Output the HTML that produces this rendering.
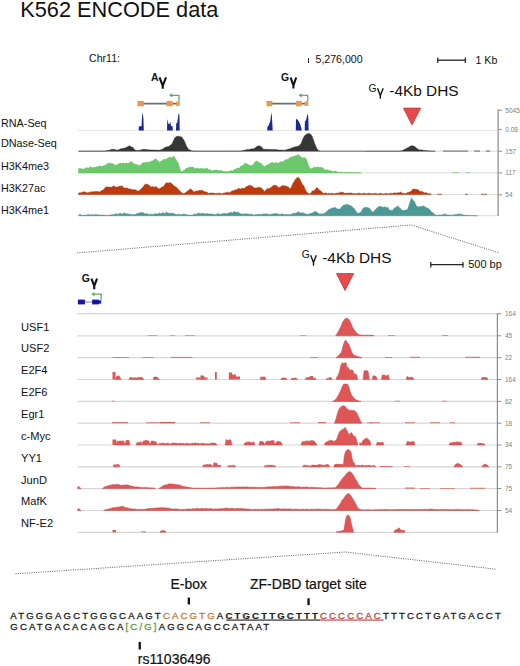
<!DOCTYPE html>
<html><head><meta charset="utf-8"><style>
html,body{margin:0;padding:0;background:#fff;}
body{width:520px;height:666px;overflow:hidden;}
svg{display:block;font-family:"Liberation Sans", sans-serif;}
</style></head><body>
<svg width="520" height="666" viewBox="0 0 520 666">
<rect width="520" height="666" fill="#fff"/>
<text x="20.2" y="16.7" font-size="21.75" fill="#111" font-weight="normal" text-anchor="start" >K562 ENCODE data</text>
<text x="89" y="62.3" font-size="10.6" fill="#111" font-weight="normal" text-anchor="start" >Chr11:</text>
<line x1="308.5" y1="58" x2="308.5" y2="63" stroke="#222" stroke-width="1"/>
<text x="315.5" y="63" font-size="10.6" fill="#111" font-weight="normal" text-anchor="start" >5,276,000</text>
<line x1="437.5" y1="60.2" x2="465.5" y2="60.2" stroke="#222" stroke-width="1.3"/>
<line x1="437.8" y1="57.6" x2="437.8" y2="63" stroke="#222" stroke-width="1.2"/>
<line x1="465.3" y1="57.6" x2="465.3" y2="63" stroke="#222" stroke-width="1.2"/>
<text x="475.5" y="63.5" font-size="10.6" fill="#111" font-weight="normal" text-anchor="start" >1 Kb</text>
<text x="151.0" y="80.7" font-size="10.4" fill="#111" font-weight="bold">A</text><path d="M159.5,77.4 L162.75,85.8 L166.0,77.4 M162.75,85.0 L162.75,88.7" fill="none" stroke="#111" stroke-width="2.1" stroke-linejoin="miter" stroke-linecap="butt"/>
<text x="281.1" y="80.75" font-size="10.4" fill="#111" font-weight="bold">G</text><path d="M290.6,77.5 L293.4,85.6 L296.2,77.5 M293.4,84.8 L293.4,88.6" fill="none" stroke="#111" stroke-width="2.1" stroke-linejoin="miter" stroke-linecap="butt"/>
<line x1="140.4" y1="103.6" x2="179.5" y2="103.6" stroke="#6e6e6e" stroke-width="1.6"/><rect x="137.4" y="100.9" width="6.400000000000006" height="5.4" fill="#e59a4c"/><rect x="166.5" y="100.9" width="6.199999999999989" height="5.4" fill="#e59a4c"/><rect x="176.2" y="101.4" width="3.3000000000000114" height="4.6" fill="#e59a4c"/><path d="M179.0,101.5 L179.0,95.3 L171.0,95.3" fill="none" stroke="#66a666" stroke-width="1.3"/><path d="M169.0,95.3 L172.2,93.2 L172.2,97.4 Z" fill="#66a666"/>
<line x1="269.5" y1="103.6" x2="308.2" y2="103.6" stroke="#6e6e6e" stroke-width="1.6"/><rect x="266.5" y="100.9" width="5.800000000000011" height="5.4" fill="#e59a4c"/><rect x="296.0" y="100.9" width="5.699999999999989" height="5.4" fill="#e59a4c"/><rect x="304.6" y="101.4" width="3.599999999999966" height="4.6" fill="#e59a4c"/><path d="M307.7,101.5 L307.7,95.3 L300.5,95.3" fill="none" stroke="#66a666" stroke-width="1.3"/><path d="M298.5,95.3 L301.7,93.2 L301.7,97.4 Z" fill="#66a666"/>
<text x="368.5" y="91.9" font-size="10.3" fill="#111">G</text><path d="M377.5,88.2 L380.35,95.6 L383.2,88.2 M380.35,94.8 L380.35,98.8" fill="none" stroke="#111" stroke-width="1.35" stroke-linejoin="miter" stroke-linecap="butt"/><text x="458.6" y="95.8" font-size="15.4" fill="#111" text-anchor="end">-4Kb DHS</text>
<path d="M403.4,108.1 L420.7,108.1 L412.0,124.9 Z" fill="#e64a4c" stroke="#b8383a" stroke-width="0.8" stroke-linejoin="round"/>
<line x1="78.5" y1="130.4" x2="497.5" y2="130.4" stroke="#e0e0e0" stroke-width="0.9"/>
<line x1="78.5" y1="151.2" x2="497.5" y2="151.2" stroke="#d4d4d4" stroke-width="0.9"/>
<line x1="78.5" y1="172.9" x2="497.5" y2="172.9" stroke="#d4d4d4" stroke-width="0.9"/>
<line x1="78.5" y1="194.6" x2="497.5" y2="194.6" stroke="#d4d4d4" stroke-width="0.9"/>
<line x1="78.5" y1="215.7" x2="497.5" y2="215.7" stroke="#d4d4d4" stroke-width="0.9"/>
<rect x="443" y="150.6" width="25" height="0.9" fill="#555"/>
<rect x="474" y="150.6" width="6" height="0.9" fill="#555"/>
<rect x="486" y="150.6" width="4" height="0.9" fill="#555"/>
<rect x="452" y="172.2" width="7" height="0.8" fill="#9c9"/>
<rect x="466" y="172.2" width="4" height="0.8" fill="#9c9"/>
<rect x="437" y="193.8" width="5" height="0.9" fill="#a54"/>
<rect x="465" y="193.8" width="3" height="0.9" fill="#a54"/>
<rect x="481" y="193.8" width="6" height="0.9" fill="#a54"/>
<path d="M138.7,130.4 L138.7,130.4 L138.9,126.2 L141.6,126.2 L141.9,119.0 L142.6,112.0 L143.4,118.0 L143.8,130.4 L143.8,130.4 Z" fill="#1a2a8e"/>
<path d="M167.0,130.4 L167.0,130.4 L167.2,123.0 L167.6,119.1 L168.4,123.9 L169.5,123.9 L170.2,121.2 L171.0,126.0 L172.5,126.2 L172.9,130.4 L172.9,130.4 Z" fill="#1a2a8e"/>
<path d="M176.0,130.4 L176.0,130.4 L176.2,123.5 L177.2,122.8 L178.2,116.0 L178.8,112.8 L179.4,115.0 L179.7,130.4 L179.7,130.4 Z" fill="#1a2a8e"/>
<path d="M267.2,130.4 L267.2,130.4 L267.4,127.0 L268.8,124.9 L270.4,120.7 L271.2,112.2 L271.9,116.5 L272.7,130.4 L272.7,130.4 Z" fill="#1a2a8e"/>
<path d="M295.8,130.4 L295.8,130.4 L296.0,119.1 L297.5,119.5 L298.8,121.5 L300.2,124.4 L301.2,127.8 L301.8,130.4 L301.8,130.4 Z" fill="#1a2a8e"/>
<path d="M304.7,130.4 L304.7,130.4 L304.9,121.5 L305.9,120.6 L306.8,117.0 L307.3,114.8 L307.9,114.3 L308.4,119.6 L308.6,130.4 L308.6,130.4 Z" fill="#1a2a8e"/>
<path d="M78.5,151.2 L78.5,151.1 L79.3,151.1 L80.1,151.1 L80.9,151.1 L81.7,151.1 L82.5,151.1 L83.3,151.1 L84.1,151.1 L84.9,151.1 L85.7,151.1 L86.5,151.1 L87.3,151.1 L88.1,151.1 L88.9,151.1 L89.7,151.1 L90.5,151.1 L91.3,151.0 L92.1,151.0 L92.9,151.0 L93.7,151.0 L94.5,151.0 L95.3,151.0 L96.1,151.0 L96.9,151.0 L97.7,151.0 L98.5,151.0 L99.3,151.0 L100.1,151.0 L100.9,151.0 L101.7,151.0 L102.5,151.0 L103.3,151.0 L104.1,151.0 L104.9,150.9 L105.7,150.8 L106.5,150.6 L107.3,150.5 L108.1,150.5 L108.9,150.3 L109.7,150.0 L110.5,149.7 L111.3,149.5 L112.1,149.3 L112.9,149.3 L113.7,149.3 L114.5,149.5 L115.3,149.6 L116.1,149.9 L116.9,150.1 L117.7,150.1 L118.5,149.7 L119.3,149.4 L120.1,149.1 L120.9,148.7 L121.7,148.5 L122.5,148.5 L123.3,148.2 L124.1,148.0 L124.9,148.1 L125.7,147.6 L126.5,147.4 L127.3,146.8 L128.1,146.3 L128.9,146.1 L129.7,145.7 L130.5,146.2 L131.3,146.9 L132.1,147.1 L132.9,147.2 L133.7,148.4 L134.5,149.3 L135.3,150.1 L136.1,150.5 L136.9,150.4 L137.7,150.4 L138.5,150.2 L139.3,150.3 L140.1,150.2 L140.9,149.8 L141.7,149.8 L142.5,149.6 L143.3,149.2 L144.1,149.3 L144.9,149.3 L145.7,149.6 L146.5,149.5 L147.3,149.7 L148.1,149.6 L148.9,149.9 L149.7,149.9 L150.5,149.8 L151.3,149.9 L152.1,150.0 L152.9,150.0 L153.7,150.0 L154.5,149.9 L155.3,150.0 L156.1,150.1 L156.9,150.0 L157.7,150.3 L158.5,150.1 L159.3,150.2 L160.1,149.8 L160.9,149.8 L161.7,149.5 L162.5,149.2 L163.3,148.6 L164.1,148.1 L164.9,147.5 L165.7,147.1 L166.5,146.8 L167.3,146.7 L168.1,146.7 L168.9,146.3 L169.7,145.5 L170.5,145.1 L171.3,144.4 L172.1,143.8 L172.9,141.8 L173.7,140.2 L174.5,138.0 L175.3,137.5 L176.1,136.7 L176.9,136.3 L177.7,136.6 L178.5,136.1 L179.3,136.4 L180.1,136.7 L180.9,136.6 L181.7,136.9 L182.5,138.2 L183.3,138.9 L184.1,140.4 L184.9,142.1 L185.7,144.3 L186.5,146.0 L187.3,147.6 L188.1,148.6 L188.9,149.8 L189.7,149.8 L190.5,150.3 L191.3,150.5 L192.1,150.8 L192.9,150.9 L193.7,150.9 L194.5,151.0 L195.3,151.0 L196.1,151.0 L196.9,151.0 L197.7,151.0 L198.5,151.1 L199.3,151.1 L200.1,151.1 L200.9,151.1 L201.7,151.1 L202.5,151.1 L203.3,151.1 L204.1,151.1 L204.9,151.1 L205.7,151.1 L206.5,151.1 L207.3,151.1 L208.1,151.1 L208.9,151.1 L209.7,151.1 L210.5,151.1 L211.3,151.1 L212.1,151.1 L212.9,151.1 L213.7,151.1 L214.5,151.1 L215.3,151.1 L216.1,151.1 L216.9,151.1 L217.7,151.1 L218.5,151.1 L219.3,151.1 L220.1,151.0 L220.9,151.0 L221.7,151.0 L222.5,151.0 L223.3,151.0 L224.1,151.0 L224.9,151.0 L225.7,151.0 L226.5,151.0 L227.3,151.0 L228.1,151.0 L228.9,151.0 L229.7,151.0 L230.5,151.0 L231.3,151.0 L232.1,151.0 L232.9,151.0 L233.7,151.0 L234.5,151.0 L235.3,151.0 L236.1,151.0 L236.9,151.0 L237.7,151.0 L238.5,151.0 L239.3,151.0 L240.1,151.0 L240.9,150.9 L241.7,150.6 L242.5,150.5 L243.3,150.4 L244.1,150.2 L244.9,149.9 L245.7,150.0 L246.5,149.6 L247.3,149.5 L248.1,149.4 L248.9,149.4 L249.7,149.4 L250.5,148.9 L251.3,148.9 L252.1,148.7 L252.9,148.7 L253.7,148.8 L254.5,148.3 L255.3,147.7 L256.1,146.9 L256.9,146.5 L257.7,146.1 L258.5,145.8 L259.3,145.8 L260.1,146.3 L260.9,146.5 L261.7,147.1 L262.5,148.1 L263.3,149.2 L264.1,149.1 L264.9,149.4 L265.7,149.3 L266.5,149.3 L267.3,149.2 L268.1,149.6 L268.9,149.3 L269.7,149.4 L270.5,149.4 L271.3,149.2 L272.1,149.5 L272.9,149.4 L273.7,149.4 L274.5,149.4 L275.3,149.5 L276.1,149.6 L276.9,149.8 L277.7,149.8 L278.5,150.0 L279.3,150.1 L280.1,150.1 L280.9,149.9 L281.7,150.0 L282.5,150.0 L283.3,150.2 L284.1,150.2 L284.9,150.1 L285.7,149.9 L286.5,149.5 L287.3,149.4 L288.1,149.3 L288.9,148.9 L289.7,148.7 L290.5,148.6 L291.3,148.1 L292.1,148.1 L292.9,147.5 L293.7,147.2 L294.5,146.9 L295.3,146.7 L296.1,146.5 L296.9,146.5 L297.7,146.3 L298.5,146.0 L299.3,145.4 L300.1,144.4 L300.9,143.9 L301.7,141.9 L302.5,139.7 L303.3,137.9 L304.1,136.5 L304.9,135.4 L305.7,134.6 L306.5,134.2 L307.3,133.8 L308.1,133.6 L308.9,133.5 L309.7,133.8 L310.5,134.0 L311.3,134.9 L312.1,136.3 L312.9,138.3 L313.7,140.4 L314.5,143.0 L315.3,145.0 L316.1,146.8 L316.9,148.6 L317.7,149.8 L318.5,150.2 L319.3,150.7 L320.1,151.0 L320.9,151.2 L321.7,151.2 L322.5,151.2 L323.3,151.2 L324.1,151.2 L324.9,151.2 L325.7,151.2 L326.5,151.2 L327.3,151.2 L328.1,151.2 L328.9,151.2 L329.7,151.2 L330.5,151.2 L331.3,151.2 L332.1,151.2 L332.9,151.2 L333.7,151.2 L334.5,151.2 L335.3,151.2 L336.1,151.2 L336.9,151.2 L337.7,151.2 L338.5,151.2 L339.3,151.2 L340.1,151.2 L340.9,151.2 L341.7,151.2 L342.5,151.2 L343.3,151.2 L344.1,151.2 L344.9,151.2 L345.7,151.2 L346.5,151.2 L347.3,151.2 L348.1,151.2 L348.9,151.2 L349.7,151.2 L350.5,151.2 L351.3,151.2 L352.1,151.2 L352.9,151.2 L353.7,151.2 L354.5,151.2 L355.3,151.2 L356.1,151.2 L356.9,151.2 L357.7,151.2 L358.5,151.2 L359.3,151.2 L360.1,151.2 L360.9,151.2 L361.7,151.2 L362.5,151.2 L363.3,151.2 L364.1,151.2 L364.9,151.2 L365.7,151.1 L366.5,151.1 L367.3,151.1 L368.1,151.1 L368.9,151.1 L369.7,151.1 L370.5,151.1 L371.3,151.1 L372.1,151.1 L372.9,151.1 L373.7,151.1 L374.5,151.1 L375.3,151.1 L376.1,151.1 L376.9,151.1 L377.7,151.1 L378.5,151.1 L379.3,151.1 L380.1,151.1 L380.9,151.1 L381.7,151.1 L382.5,151.1 L383.3,151.1 L384.1,151.1 L384.9,151.1 L385.7,151.1 L386.5,151.1 L387.3,151.1 L388.1,151.1 L388.9,151.1 L389.7,151.1 L390.5,151.1 L391.3,151.1 L392.1,151.1 L392.9,151.1 L393.7,151.1 L394.5,151.1 L395.3,151.1 L396.1,151.1 L396.9,151.1 L397.7,151.1 L398.5,151.1 L399.3,151.1 L400.1,151.1 L400.9,150.9 L401.7,150.5 L402.5,150.4 L403.3,150.0 L404.1,149.6 L404.9,149.1 L405.7,148.9 L406.5,148.2 L407.3,147.9 L408.1,147.4 L408.9,147.2 L409.7,146.3 L410.5,146.3 L411.3,145.8 L412.1,145.8 L412.9,145.8 L413.7,146.1 L414.5,146.5 L415.3,146.9 L416.1,147.6 L416.9,148.4 L417.7,149.1 L418.5,149.6 L419.3,149.6 L420.1,149.9 L420.9,149.9 L421.7,149.8 L422.5,150.1 L423.3,150.3 L424.1,150.4 L424.9,150.4 L425.7,150.4 L426.5,150.5 L427.3,150.7 L428.1,150.7 L428.9,150.8 L429.7,150.8 L430.5,150.9 L431.3,151.0 L432.1,151.0 L432.9,151.0 L433.7,151.1 L434.5,151.1 L435.3,151.2 L435.3,151.2 Z" fill="#363636" stroke="#363636" stroke-width="0.4" stroke-linejoin="round"/>
<path d="M78.5,172.9 L78.5,168.2 L79.9,168.8 L81.3,168.6 L82.7,169.0 L84.1,169.2 L85.5,168.0 L86.9,167.6 L88.3,168.5 L89.7,167.2 L91.1,166.8 L92.5,167.9 L93.9,167.0 L95.3,167.4 L96.7,166.7 L98.1,166.8 L99.5,165.9 L100.9,166.3 L102.3,166.4 L103.7,165.5 L105.1,165.3 L106.5,164.6 L107.9,162.9 L109.3,163.4 L110.7,163.3 L112.1,163.6 L113.5,163.8 L114.9,165.5 L116.3,165.1 L117.7,164.4 L119.1,163.5 L120.5,163.1 L121.9,163.6 L123.3,162.8 L124.7,163.6 L126.1,162.8 L127.5,163.4 L128.9,163.2 L130.3,161.7 L131.7,162.0 L133.1,162.7 L134.5,164.4 L135.9,164.1 L137.3,165.1 L138.7,165.2 L140.1,165.4 L141.5,164.0 L142.9,162.7 L144.3,162.4 L145.7,162.2 L147.1,162.5 L148.5,162.0 L149.9,161.9 L151.3,161.2 L152.7,160.8 L154.1,159.9 L155.5,158.6 L156.9,159.9 L158.3,161.2 L159.7,162.2 L161.1,161.0 L162.5,160.5 L163.9,159.0 L165.3,159.6 L166.7,158.8 L168.1,157.9 L169.5,157.1 L170.9,157.8 L172.3,157.5 L173.7,156.0 L175.1,158.2 L176.5,160.2 L177.9,162.8 L179.3,166.4 L180.7,171.1 L182.1,171.8 L183.5,170.3 L184.9,170.0 L186.3,167.9 L187.7,168.3 L189.1,167.0 L190.5,167.2 L191.9,167.0 L193.3,167.1 L194.7,168.7 L196.1,168.3 L197.5,168.0 L198.9,169.0 L200.3,168.2 L201.7,168.5 L203.1,168.7 L204.5,168.9 L205.9,168.1 L207.3,168.2 L208.7,170.0 L210.1,169.6 L211.5,170.8 L212.9,170.7 L214.3,169.9 L215.7,170.0 L217.1,170.1 L218.5,170.4 L219.9,170.6 L221.3,170.8 L222.7,171.1 L224.1,171.8 L225.5,171.3 L226.9,171.4 L228.3,171.8 L229.7,170.9 L231.1,170.4 L232.5,171.0 L233.9,169.8 L235.3,169.4 L236.7,168.1 L238.1,168.2 L239.5,167.9 L240.9,165.9 L242.3,165.8 L243.7,164.8 L245.1,162.8 L246.5,163.8 L247.9,164.3 L249.3,165.3 L250.7,165.6 L252.1,165.3 L253.5,164.3 L254.9,162.0 L256.3,161.0 L257.7,161.6 L259.1,163.0 L260.5,162.8 L261.9,164.2 L263.3,165.8 L264.7,166.5 L266.1,165.7 L267.5,164.7 L268.9,163.9 L270.3,163.3 L271.7,162.4 L273.1,162.6 L274.5,163.4 L275.9,162.3 L277.3,163.2 L278.7,163.1 L280.1,162.0 L281.5,161.5 L282.9,162.0 L284.3,160.6 L285.7,159.7 L287.1,159.4 L288.5,159.1 L289.9,157.4 L291.3,157.1 L292.7,156.4 L294.1,156.6 L295.5,155.5 L296.9,155.6 L298.3,154.5 L299.7,155.7 L301.1,157.1 L302.5,157.9 L303.9,157.6 L305.3,157.7 L306.7,160.0 L308.1,164.2 L309.5,167.8 L310.9,168.7 L312.3,168.6 L313.7,167.5 L315.1,167.1 L316.5,167.5 L317.9,166.8 L319.3,167.5 L320.7,167.3 L322.1,167.4 L323.5,168.4 L324.9,169.9 L326.3,169.7 L327.7,170.1 L329.1,170.4 L330.5,170.7 L331.9,170.9 L333.3,171.8 L334.7,171.1 L336.1,171.1 L337.5,172.2 L338.9,172.3 L340.3,172.4 L341.7,172.1 L343.1,172.4 L344.5,172.5 L345.9,172.2 L347.3,172.5 L348.7,172.6 L350.1,172.5 L351.5,172.5 L352.9,172.5 L354.3,172.5 L355.7,172.5 L357.1,172.7 L358.5,172.7 L359.9,172.8 L361.3,172.9 L361.3,172.9 Z" fill="#6cc86c" stroke="#5cb85c" stroke-width="0.4" stroke-linejoin="round"/>
<path d="M78.5,194.6 L78.5,193.1 L79.9,192.7 L81.3,192.7 L82.7,192.1 L84.1,191.7 L85.5,192.1 L86.9,192.9 L88.3,192.6 L89.7,192.5 L91.1,191.5 L92.5,192.0 L93.9,191.6 L95.3,191.6 L96.7,191.6 L98.1,191.4 L99.5,191.9 L100.9,191.0 L102.3,190.3 L103.7,189.4 L105.1,187.6 L106.5,186.8 L107.9,187.1 L109.3,187.1 L110.7,187.2 L112.1,187.1 L113.5,185.8 L114.9,186.8 L116.3,187.0 L117.7,186.9 L119.1,186.2 L120.5,186.3 L121.9,185.5 L123.3,187.4 L124.7,187.9 L126.1,187.9 L127.5,187.9 L128.9,189.1 L130.3,188.8 L131.7,189.5 L133.1,189.7 L134.5,189.6 L135.9,189.9 L137.3,190.7 L138.7,190.9 L140.1,189.9 L141.5,188.2 L142.9,187.3 L144.3,185.0 L145.7,184.0 L147.1,184.2 L148.5,184.7 L149.9,186.1 L151.3,186.9 L152.7,186.5 L154.1,187.4 L155.5,186.1 L156.9,187.6 L158.3,188.5 L159.7,188.7 L161.1,187.4 L162.5,186.9 L163.9,186.1 L165.3,183.8 L166.7,182.6 L168.1,183.3 L169.5,182.5 L170.9,183.0 L172.3,184.0 L173.7,185.8 L175.1,186.4 L176.5,187.2 L177.9,189.0 L179.3,190.3 L180.7,192.2 L182.1,192.9 L183.5,193.4 L184.9,193.1 L186.3,192.2 L187.7,190.8 L189.1,190.1 L190.5,188.7 L191.9,189.8 L193.3,191.4 L194.7,191.7 L196.1,190.8 L197.5,191.2 L198.9,190.3 L200.3,190.4 L201.7,190.2 L203.1,190.7 L204.5,191.8 L205.9,191.8 L207.3,192.4 L208.7,193.5 L210.1,192.9 L211.5,192.9 L212.9,193.0 L214.3,193.1 L215.7,193.7 L217.1,193.3 L218.5,193.2 L219.9,193.0 L221.3,193.9 L222.7,193.3 L224.1,193.1 L225.5,192.7 L226.9,192.4 L228.3,192.2 L229.7,192.8 L231.1,191.6 L232.5,190.7 L233.9,190.7 L235.3,189.6 L236.7,190.1 L238.1,188.3 L239.5,188.8 L240.9,188.9 L242.3,188.1 L243.7,188.8 L245.1,187.4 L246.5,186.4 L247.9,186.1 L249.3,185.0 L250.7,185.7 L252.1,186.0 L253.5,187.6 L254.9,188.1 L256.3,188.1 L257.7,187.2 L259.1,187.4 L260.5,187.4 L261.9,188.5 L263.3,189.8 L264.7,191.8 L266.1,189.6 L267.5,188.4 L268.9,188.8 L270.3,187.4 L271.7,187.2 L273.1,185.4 L274.5,185.4 L275.9,185.1 L277.3,186.5 L278.7,187.5 L280.1,187.3 L281.5,185.9 L282.9,185.4 L284.3,185.7 L285.7,186.0 L287.1,186.6 L288.5,187.0 L289.9,189.0 L291.3,187.3 L292.7,183.8 L294.1,181.5 L295.5,179.3 L296.9,177.8 L298.3,177.4 L299.7,178.7 L301.1,181.8 L302.5,184.6 L303.9,185.9 L305.3,189.7 L306.7,192.0 L308.1,193.2 L309.5,193.7 L310.9,193.3 L312.3,190.8 L313.7,190.9 L315.1,189.5 L316.5,187.6 L317.9,188.3 L319.3,190.0 L320.7,190.8 L322.1,192.2 L323.5,193.5 L324.9,193.1 L326.3,192.9 L327.7,193.8 L329.1,192.9 L330.5,193.8 L331.9,193.0 L333.3,193.6 L334.7,193.5 L336.1,193.5 L337.5,192.8 L338.9,193.2 L340.3,191.9 L341.7,192.6 L343.1,192.3 L344.5,193.3 L345.9,193.3 L347.3,193.0 L348.7,193.3 L350.1,192.9 L351.5,193.0 L352.9,193.5 L354.3,193.4 L355.7,193.8 L357.1,193.5 L358.5,193.1 L359.9,193.3 L361.3,193.7 L362.7,193.4 L364.1,193.0 L365.5,193.8 L366.9,193.8 L368.3,193.1 L369.7,193.5 L371.1,193.4 L372.5,193.8 L373.9,193.4 L375.3,193.3 L376.7,193.6 L378.1,194.0 L379.5,193.3 L380.9,193.3 L382.3,193.7 L383.7,193.9 L385.1,193.5 L386.5,193.4 L387.9,193.8 L389.3,193.7 L390.7,193.0 L392.1,193.8 L393.5,192.9 L394.9,192.8 L396.3,193.3 L397.7,192.6 L399.1,193.0 L400.5,191.8 L401.9,193.3 L403.3,193.0 L404.7,193.7 L406.1,193.5 L407.5,192.6 L408.9,192.2 L410.3,191.7 L411.7,190.4 L413.1,188.9 L414.5,189.1 L415.9,189.3 L417.3,189.5 L418.7,190.1 L420.1,191.8 L421.5,191.3 L422.9,191.8 L424.3,192.9 L425.7,192.4 L427.1,193.3 L428.5,193.8 L429.9,193.6 L431.3,194.2 L431.3,194.6 Z" fill="#bd3a0c" stroke="#a8300a" stroke-width="0.4" stroke-linejoin="round"/>
<path d="M78.5,215.7 L78.5,215.5 L79.9,213.9 L81.3,215.3 L82.7,215.2 L84.1,215.2 L85.5,215.1 L86.9,215.1 L88.3,214.5 L89.7,214.7 L91.1,214.9 L92.5,214.6 L93.9,214.9 L95.3,214.4 L96.7,214.7 L98.1,214.7 L99.5,214.9 L100.9,215.0 L102.3,214.9 L103.7,215.0 L105.1,215.2 L106.5,215.4 L107.9,215.4 L109.3,215.0 L110.7,215.1 L112.1,214.5 L113.5,214.7 L114.9,214.0 L116.3,213.7 L117.7,214.4 L119.1,213.4 L120.5,213.2 L121.9,214.1 L123.3,213.7 L124.7,212.7 L126.1,214.0 L127.5,213.7 L128.9,214.2 L130.3,214.1 L131.7,214.8 L133.1,214.4 L134.5,214.6 L135.9,214.3 L137.3,213.3 L138.7,213.2 L140.1,212.7 L141.5,212.5 L142.9,212.6 L144.3,213.2 L145.7,213.9 L147.1,213.4 L148.5,214.4 L149.9,214.3 L151.3,214.2 L152.7,214.5 L154.1,214.0 L155.5,213.7 L156.9,213.7 L158.3,213.9 L159.7,212.8 L161.1,213.9 L162.5,212.4 L163.9,213.3 L165.3,213.3 L166.7,212.0 L168.1,213.3 L169.5,213.0 L170.9,213.6 L172.3,213.1 L173.7,213.6 L175.1,214.1 L176.5,214.8 L177.9,214.0 L179.3,214.4 L180.7,214.5 L182.1,214.5 L183.5,214.0 L184.9,214.3 L186.3,214.6 L187.7,215.0 L189.1,214.9 L190.5,215.2 L191.9,215.0 L193.3,214.8 L194.7,213.8 L196.1,214.5 L197.5,213.2 L198.9,213.2 L200.3,213.3 L201.7,213.7 L203.1,213.0 L204.5,214.1 L205.9,213.7 L207.3,213.6 L208.7,213.9 L210.1,213.9 L211.5,214.1 L212.9,214.1 L214.3,214.5 L215.7,214.8 L217.1,213.8 L218.5,213.6 L219.9,214.6 L221.3,214.0 L222.7,213.7 L224.1,213.3 L225.5,213.6 L226.9,213.7 L228.3,213.0 L229.7,212.8 L231.1,212.1 L232.5,213.1 L233.9,211.6 L235.3,212.1 L236.7,212.6 L238.1,212.0 L239.5,213.2 L240.9,213.9 L242.3,213.8 L243.7,214.3 L245.1,213.5 L246.5,214.0 L247.9,213.8 L249.3,214.6 L250.7,214.1 L252.1,214.3 L253.5,214.9 L254.9,214.8 L256.3,214.8 L257.7,214.3 L259.1,214.3 L260.5,214.5 L261.9,214.2 L263.3,213.9 L264.7,214.0 L266.1,213.7 L267.5,213.9 L268.9,214.6 L270.3,214.5 L271.7,214.1 L273.1,213.9 L274.5,213.7 L275.9,213.4 L277.3,213.6 L278.7,214.3 L280.1,214.4 L281.5,213.7 L282.9,214.3 L284.3,214.4 L285.7,214.4 L287.1,214.5 L288.5,214.6 L289.9,214.4 L291.3,214.3 L292.7,213.4 L294.1,213.2 L295.5,213.2 L296.9,212.7 L298.3,211.7 L299.7,212.7 L301.1,212.7 L302.5,213.1 L303.9,212.7 L305.3,213.9 L306.7,214.1 L308.1,214.4 L309.5,213.6 L310.9,213.6 L312.3,212.8 L313.7,212.5 L315.1,211.3 L316.5,212.0 L317.9,213.0 L319.3,214.0 L320.7,213.7 L322.1,214.0 L323.5,213.8 L324.9,213.0 L326.3,212.0 L327.7,210.6 L329.1,209.3 L330.5,208.9 L331.9,207.8 L333.3,208.0 L334.7,207.4 L336.1,207.7 L337.5,209.1 L338.9,209.0 L340.3,208.9 L341.7,206.7 L343.1,205.4 L344.5,204.8 L345.9,204.7 L347.3,204.3 L348.7,204.9 L350.1,205.4 L351.5,206.0 L352.9,207.4 L354.3,208.5 L355.7,210.8 L357.1,213.0 L358.5,213.3 L359.9,212.7 L361.3,211.6 L362.7,208.7 L364.1,207.4 L365.5,207.5 L366.9,207.2 L368.3,207.7 L369.7,208.5 L371.1,210.4 L372.5,211.9 L373.9,211.6 L375.3,209.5 L376.7,208.3 L378.1,207.1 L379.5,206.3 L380.9,206.5 L382.3,206.9 L383.7,207.4 L385.1,206.4 L386.5,208.0 L387.9,207.1 L389.3,210.3 L390.7,210.1 L392.1,210.8 L393.5,209.1 L394.9,207.6 L396.3,207.4 L397.7,205.6 L399.1,207.4 L400.5,208.4 L401.9,210.1 L403.3,210.7 L404.7,210.1 L406.1,210.0 L407.5,209.4 L408.9,205.5 L410.3,200.9 L411.7,197.7 L413.1,200.5 L414.5,201.4 L415.9,204.9 L417.3,206.8 L418.7,206.8 L420.1,206.6 L421.5,206.8 L422.9,205.8 L424.3,206.3 L425.7,207.3 L427.1,208.1 L428.5,208.4 L429.9,210.1 L431.3,211.8 L432.7,212.5 L434.1,213.8 L435.5,214.9 L436.9,215.3 L438.3,215.3 L439.7,214.8 L441.1,215.0 L442.5,214.8 L443.9,214.3 L445.3,213.8 L446.7,214.9 L448.1,214.8 L449.5,215.2 L450.9,214.9 L452.3,215.2 L453.7,214.7 L455.1,214.4 L456.5,214.4 L457.9,213.9 L459.3,214.2 L460.7,214.1 L462.1,214.4 L463.5,215.0 L464.9,215.2 L466.3,215.0 L467.7,215.3 L469.1,215.4 L470.5,215.5 L471.9,215.5 L473.3,215.6 L474.7,215.6 L476.1,215.7 L477.5,215.7 L477.5,215.7 Z" fill="#4c9a98" stroke="#3f8a88" stroke-width="0.4" stroke-linejoin="round"/>
<line x1="498.1" y1="109.6" x2="498.1" y2="216" stroke="#8a8a8a" stroke-width="1.2"/>
<line x1="498" y1="110.2" x2="502" y2="110.2" stroke="#8a8a8a" stroke-width="1"/>
<text x="505.3" y="112.5" font-size="6.5" fill="#808080" font-weight="normal" text-anchor="start" >5045</text>
<line x1="498" y1="129.4" x2="502" y2="129.4" stroke="#8a8a8a" stroke-width="1"/>
<text x="505.3" y="131.70000000000002" font-size="6.5" fill="#808080" font-weight="normal" text-anchor="start" >0.08</text>
<line x1="498" y1="151.2" x2="502" y2="151.2" stroke="#8a8a8a" stroke-width="1"/>
<text x="505.3" y="153.5" font-size="6.5" fill="#808080" font-weight="normal" text-anchor="start" >157</text>
<line x1="498" y1="172.9" x2="502" y2="172.9" stroke="#8a8a8a" stroke-width="1"/>
<text x="505.3" y="175.20000000000002" font-size="6.5" fill="#808080" font-weight="normal" text-anchor="start" >117</text>
<line x1="498" y1="194.8" x2="502" y2="194.8" stroke="#8a8a8a" stroke-width="1"/>
<text x="505.3" y="197.10000000000002" font-size="6.5" fill="#808080" font-weight="normal" text-anchor="start" >54</text>
<text x="1.0" y="126.8" font-size="10.8" fill="#111" font-weight="normal" text-anchor="start" >RNA-Seq</text>
<text x="1.0" y="147.2" font-size="10.8" fill="#111" font-weight="normal" text-anchor="start" >DNase-Seq</text>
<text x="1.0" y="170.3" font-size="10.8" fill="#111" font-weight="normal" text-anchor="start" >H3K4me3</text>
<text x="1.0" y="191.8" font-size="10.8" fill="#111" font-weight="normal" text-anchor="start" >H3K27ac</text>
<text x="1.0" y="214.3" font-size="10.8" fill="#111" font-weight="normal" text-anchor="start" >H3K4me1</text>
<polyline points="77,253 411.3,225 499.5,253" fill="none" stroke="#5a5a5a" stroke-width="0.9" stroke-dasharray="1.1,1.2"/>
<text x="81.85" y="281.5" font-size="10.4" fill="#111" font-weight="bold">G</text><path d="M91.4,278.6 L94.25,285.8 L97.1,278.6 M94.25,285.0 L94.25,289.2" fill="none" stroke="#111" stroke-width="2.1" stroke-linejoin="miter" stroke-linecap="butt"/>
<line x1="84" y1="302" x2="92" y2="302" stroke="#8080c0" stroke-width="1"/>
<rect x="77.9" y="299.6" width="7" height="4.8" fill="#1414a6"/>
<rect x="92.1" y="299.6" width="7" height="4.8" fill="#1414a6"/>
<rect x="99" y="300.4" width="2.2" height="3.2" fill="#1414a6"/>
<path d="M101.2,300 L101.2,294.2 L93.2,294.2" fill="none" stroke="#66a666" stroke-width="1.3"/>
<path d="M91.2,294.2 L94.4,292.1 L94.4,296.3 Z" fill="#66a666"/>
<text x="301.7" y="258.3" font-size="10.3" fill="#111">G</text><path d="M310.7,255.2 L313.5,262.6 L316.3,255.2 M313.5,261.8 L313.5,265.8" fill="none" stroke="#111" stroke-width="1.35" stroke-linejoin="miter" stroke-linecap="butt"/><text x="391.5" y="263.2" font-size="15.4" fill="#111" text-anchor="end">-4Kb DHS</text>
<path d="M336.5,273.6 L353.7,273.6 L345.0,290.5 Z" fill="#e64a4c" stroke="#b8383a" stroke-width="0.8" stroke-linejoin="round"/>
<line x1="430.5" y1="264.7" x2="463.3" y2="264.7" stroke="#222" stroke-width="1.3"/>
<line x1="430.8" y1="262" x2="430.8" y2="267.4" stroke="#222" stroke-width="1.2"/>
<line x1="463" y1="262" x2="463" y2="267.4" stroke="#222" stroke-width="1.2"/>
<text x="468.2" y="267.7" font-size="11" fill="#111" font-weight="normal" text-anchor="start" >500 bp</text>
<line x1="77.5" y1="313.7" x2="497.2" y2="313.7" stroke="#d6d6d6" stroke-width="1.2"/>
<line x1="77.5" y1="335.8" x2="497.2" y2="335.8" stroke="#d6d6d6" stroke-width="1.2"/>
<line x1="77.5" y1="357.7" x2="497.2" y2="357.7" stroke="#d6d6d6" stroke-width="1.2"/>
<line x1="77.5" y1="379.5" x2="497.2" y2="379.5" stroke="#d6d6d6" stroke-width="1.2"/>
<line x1="77.5" y1="401.4" x2="497.2" y2="401.4" stroke="#d6d6d6" stroke-width="1.2"/>
<line x1="77.5" y1="423.2" x2="497.2" y2="423.2" stroke="#d6d6d6" stroke-width="1.2"/>
<line x1="77.5" y1="445.0" x2="497.2" y2="445.0" stroke="#d6d6d6" stroke-width="1.2"/>
<line x1="77.5" y1="466.8" x2="497.2" y2="466.8" stroke="#d6d6d6" stroke-width="1.2"/>
<line x1="77.5" y1="488.6" x2="497.2" y2="488.6" stroke="#d6d6d6" stroke-width="1.2"/>
<line x1="77.5" y1="510.5" x2="497.2" y2="510.5" stroke="#d6d6d6" stroke-width="1.2"/>
<line x1="77.5" y1="532.3" x2="497.2" y2="532.3" stroke="#d6d6d6" stroke-width="1.2"/>
<line x1="497.4" y1="313.3" x2="497.4" y2="532.8" stroke="#8a8a8a" stroke-width="1.2"/>
<line x1="497.3" y1="313.7" x2="501.3" y2="313.7" stroke="#8a8a8a" stroke-width="1"/>
<text x="505.0" y="316.0" font-size="6.5" fill="#808080" font-weight="normal" text-anchor="start" >164</text>
<line x1="497.3" y1="335.8" x2="501.3" y2="335.8" stroke="#8a8a8a" stroke-width="1"/>
<text x="505.0" y="338.1" font-size="6.5" fill="#808080" font-weight="normal" text-anchor="start" >45</text>
<line x1="497.3" y1="357.7" x2="501.3" y2="357.7" stroke="#8a8a8a" stroke-width="1"/>
<text x="505.0" y="360.0" font-size="6.5" fill="#808080" font-weight="normal" text-anchor="start" >22</text>
<line x1="497.3" y1="379.5" x2="501.3" y2="379.5" stroke="#8a8a8a" stroke-width="1"/>
<text x="505.0" y="381.8" font-size="6.5" fill="#808080" font-weight="normal" text-anchor="start" >164</text>
<line x1="497.3" y1="401.4" x2="501.3" y2="401.4" stroke="#8a8a8a" stroke-width="1"/>
<text x="505.0" y="403.7" font-size="6.5" fill="#808080" font-weight="normal" text-anchor="start" >62</text>
<line x1="497.3" y1="423.2" x2="501.3" y2="423.2" stroke="#8a8a8a" stroke-width="1"/>
<text x="505.0" y="425.5" font-size="6.5" fill="#808080" font-weight="normal" text-anchor="start" >18</text>
<line x1="497.3" y1="445.0" x2="501.3" y2="445.0" stroke="#8a8a8a" stroke-width="1"/>
<text x="505.0" y="447.3" font-size="6.5" fill="#808080" font-weight="normal" text-anchor="start" >34</text>
<line x1="497.3" y1="466.8" x2="501.3" y2="466.8" stroke="#8a8a8a" stroke-width="1"/>
<text x="505.0" y="469.1" font-size="6.5" fill="#808080" font-weight="normal" text-anchor="start" >75</text>
<line x1="497.3" y1="488.6" x2="501.3" y2="488.6" stroke="#8a8a8a" stroke-width="1"/>
<text x="505.0" y="490.90000000000003" font-size="6.5" fill="#808080" font-weight="normal" text-anchor="start" >75</text>
<line x1="497.3" y1="510.5" x2="501.3" y2="510.5" stroke="#8a8a8a" stroke-width="1"/>
<text x="505.0" y="512.8" font-size="6.5" fill="#808080" font-weight="normal" text-anchor="start" >54</text>
<text x="21.0" y="330.5" font-size="11.1" fill="#111" font-weight="normal" text-anchor="start" >USF1</text>
<text x="21.0" y="352.3" font-size="11.1" fill="#111" font-weight="normal" text-anchor="start" >USF2</text>
<text x="21.0" y="374.3" font-size="11.1" fill="#111" font-weight="normal" text-anchor="start" >E2F4</text>
<text x="21.0" y="395.90000000000003" font-size="11.1" fill="#111" font-weight="normal" text-anchor="start" >E2F6</text>
<text x="21.0" y="417.5" font-size="11.1" fill="#111" font-weight="normal" text-anchor="start" >Egr1</text>
<text x="21.0" y="440.1" font-size="11.1" fill="#111" font-weight="normal" text-anchor="start" >c-Myc</text>
<text x="21.0" y="461.7" font-size="11.1" fill="#111" font-weight="normal" text-anchor="start" >YY1</text>
<text x="21.0" y="483.7" font-size="11.1" fill="#111" font-weight="normal" text-anchor="start" >JunD</text>
<text x="21.0" y="505.0" font-size="11.1" fill="#111" font-weight="normal" text-anchor="start" >MafK</text>
<text x="21.0" y="526.5999999999999" font-size="11.1" fill="#111" font-weight="normal" text-anchor="start" >NF-E2</text>
<path d="M335.5,335.8 L335.5,335.8 L336.2,335.1 L338.5,331.2 L340.8,326.6 L343.1,321.2 L345.4,318.5 L347.3,318.2 L349.2,319.7 L350.8,322.8 L352.7,327.4 L354.6,330.5 L356.9,333.2 L359.2,334.7 L362.3,335.2 L372.5,335.3 L374.0,335.8 L374.0,335.8 Z" fill="#de5656" stroke="#c84444" stroke-width="0.5" stroke-linejoin="round"/>
<rect x="147.5" y="335.3" width="10.0" height="0.5" fill="#de5656"/>
<rect x="170.0" y="335.3" width="5.0" height="0.5" fill="#de5656"/>
<rect x="185.0" y="335.3" width="10.0" height="0.5" fill="#de5656"/>
<rect x="388.0" y="335.2" width="7.0" height="0.6" fill="#de5656"/>
<rect x="442.0" y="335.2" width="6.0" height="0.6" fill="#de5656"/>
<rect x="300.0" y="335.3" width="6.0" height="0.5" fill="#de5656"/>
<path d="M336.0,357.7 L336.0,357.7 L336.9,357.0 L339.2,355.1 L341.5,352.0 L343.1,345.8 L344.6,341.2 L345.8,340.1 L346.9,342.0 L348.8,344.3 L350.4,348.2 L352.3,353.5 L354.6,355.5 L357.7,356.6 L360.8,357.2 L362.0,357.7 L362.0,357.7 Z" fill="#de5656" stroke="#c84444" stroke-width="0.5" stroke-linejoin="round"/>
<rect x="112.5" y="357.0" width="16.2" height="0.7" fill="#de5656"/>
<rect x="142.5" y="357.0" width="11.2" height="0.7" fill="#de5656"/>
<rect x="171.0" y="356.9" width="21.5" height="0.8" fill="#de5656"/>
<rect x="310.0" y="357.0" width="8.0" height="0.7" fill="#de5656"/>
<rect x="385.0" y="357.0" width="7.0" height="0.7" fill="#de5656"/>
<rect x="410.0" y="356.8" width="10.0" height="0.9" fill="#de5656"/>
<rect x="465.0" y="356.8" width="15.0" height="0.9" fill="#de5656"/>
<path d="M336.1,379.5 L336.1,379.5 L337.0,376.7 L337.9,375.5 L338.8,373.9 L339.7,370.4 L340.6,366.3 L341.5,363.7 L342.4,362.8 L343.3,363.4 L344.2,363.3 L345.1,362.8 L346.0,362.8 L346.9,367.0 L347.8,367.2 L348.7,368.4 L349.6,369.5 L350.5,370.4 L351.4,369.7 L352.3,369.8 L353.2,371.3 L354.1,373.4 L355.0,374.2 L355.9,374.2 L356.8,375.1 L357.7,379.5 L357.7,379.5 Z" fill="#de5656" stroke="#c84444" stroke-width="0.5" stroke-linejoin="round"/>
<rect x="112.5" y="372.0" width="3.0" height="7.5" fill="#de5656"/>
<path d="M115.5,379.5 L115.5,379.5 L116.5,376.2 L117.5,376.2 L118.5,375.6 L119.5,376.4 L121.3,379.5 L121.3,379.5 Z" fill="#de5656" stroke="#c84444" stroke-width="0.4" stroke-linejoin="round"/>
<path d="M128.8,379.5 L128.8,379.5 L129.8,377.6 L130.8,377.2 L131.8,377.4 L132.8,378.0 L133.8,377.9 L134.8,377.2 L135.8,378.1 L136.8,378.1 L137.8,377.0 L138.8,377.8 L139.8,377.4 L140.8,377.0 L141.8,377.4 L142.8,377.8 L143.8,379.5 L143.8,379.5 Z" fill="#de5656" stroke="#c84444" stroke-width="0.4" stroke-linejoin="round"/>
<path d="M153.0,379.5 L153.0,379.5 L154.0,376.8 L155.0,377.1 L156.0,376.9 L157.0,377.0 L158.0,377.9 L159.5,379.5 L159.5,379.5 Z" fill="#de5656" stroke="#c84444" stroke-width="0.4" stroke-linejoin="round"/>
<rect x="196.0" y="377.5" width="4.0" height="2.0" fill="#de5656"/>
<path d="M200.0,379.5 L200.0,379.5 L201.0,375.4 L202.0,375.6 L203.0,375.9 L204.0,375.9 L205.0,379.5 L205.0,379.5 Z" fill="#de5656" stroke="#c84444" stroke-width="0.4" stroke-linejoin="round"/>
<rect x="205.0" y="377.5" width="2.5" height="2.0" fill="#de5656"/>
<rect x="215.0" y="372.0" width="1.8" height="7.5" fill="#de5656"/>
<rect x="228.8" y="372.5" width="3.2" height="7.0" fill="#de5656"/>
<rect x="232.0" y="374.5" width="4.0" height="5.0" fill="#de5656"/>
<rect x="236.0" y="376.5" width="4.0" height="3.0" fill="#de5656"/>
<path d="M260.0,379.5 L260.0,379.5 L261.0,376.5 L262.0,377.5 L263.0,376.7 L264.0,377.3 L265.0,376.7 L266.0,379.5 L266.0,379.5 Z" fill="#de5656" stroke="#c84444" stroke-width="0.4" stroke-linejoin="round"/>
<path d="M280.5,379.5 L280.5,379.5 L281.5,378.3 L282.5,378.0 L283.5,377.9 L284.5,377.9 L285.5,377.8 L287.0,379.5 L287.0,379.5 Z" fill="#de5656" stroke="#c84444" stroke-width="0.4" stroke-linejoin="round"/>
<path d="M291.0,379.5 L291.0,379.5 L292.0,378.0 L293.0,378.1 L294.0,378.5 L295.0,378.0 L296.0,377.7 L297.5,379.5 L297.5,379.5 Z" fill="#de5656" stroke="#c84444" stroke-width="0.4" stroke-linejoin="round"/>
<path d="M305.0,379.5 L305.0,379.5 L306.0,377.7 L307.0,377.8 L308.0,377.6 L309.0,377.1 L310.0,377.4 L311.0,377.0 L312.0,377.8 L313.0,377.4 L314.0,378.2 L315.0,377.7 L316.0,379.5 L316.0,379.5 Z" fill="#de5656" stroke="#c84444" stroke-width="0.4" stroke-linejoin="round"/>
<rect x="310.0" y="376.0" width="3.0" height="3.5" fill="#de5656"/>
<path d="M326.0,379.5 L326.0,379.5 L327.0,378.2 L328.0,378.4 L329.0,377.7 L330.0,377.6 L331.0,377.6 L332.5,379.5 L332.5,379.5 Z" fill="#de5656" stroke="#c84444" stroke-width="0.4" stroke-linejoin="round"/>
<path d="M363.0,379.5 L363.0,379.5 L364.0,370.8 L365.0,370.6 L366.0,370.9 L367.0,370.4 L368.0,370.9 L369.5,379.5 L369.5,379.5 Z" fill="#de5656" stroke="#c84444" stroke-width="0.4" stroke-linejoin="round"/>
<path d="M372.0,379.5 L372.0,379.5 L373.0,375.8 L374.0,375.8 L375.0,375.9 L376.0,376.6 L377.5,379.5 L377.5,379.5 Z" fill="#de5656" stroke="#c84444" stroke-width="0.4" stroke-linejoin="round"/>
<path d="M381.3,379.5 L381.3,379.5 L382.3,374.6 L383.3,375.2 L384.3,375.1 L385.3,375.2 L386.3,375.9 L387.3,375.2 L388.3,374.8 L389.5,379.5 L389.5,379.5 Z" fill="#de5656" stroke="#c84444" stroke-width="0.4" stroke-linejoin="round"/>
<path d="M406.0,379.5 L406.0,379.5 L407.0,376.5 L408.0,376.7 L409.0,377.4 L410.0,377.4 L411.0,377.3 L412.0,376.9 L413.0,377.8 L414.0,379.5 L414.0,379.5 Z" fill="#de5656" stroke="#c84444" stroke-width="0.4" stroke-linejoin="round"/>
<path d="M481.0,379.5 L481.0,379.5 L482.0,377.3 L483.0,377.7 L484.0,377.1 L485.0,377.4 L486.0,377.7 L487.0,377.4 L488.0,379.5 L488.0,379.5 Z" fill="#de5656" stroke="#c84444" stroke-width="0.4" stroke-linejoin="round"/>
<path d="M332.0,401.4 L332.0,401.4 L333.8,401.1 L336.2,398.8 L338.5,394.9 L340.8,390.3 L342.3,386.5 L343.5,384.2 L345.0,384.0 L347.3,384.0 L348.5,385.7 L350.0,391.1 L351.5,394.9 L353.8,398.0 L356.2,399.9 L359.2,401.1 L361.0,401.4 L361.0,401.4 Z" fill="#de5656" stroke="#c84444" stroke-width="0.5" stroke-linejoin="round"/>
<rect x="112.0" y="400.8" width="3.0" height="0.6" fill="#de5656"/>
<rect x="395.0" y="400.8" width="5.0" height="0.6" fill="#de5656"/>
<rect x="442.0" y="400.8" width="5.0" height="0.6" fill="#de5656"/>
<path d="M334.3,423.2 L334.3,423.2 L334.5,423.0 L335.9,419.3 L337.4,413.5 L338.8,409.7 L340.8,406.8 L343.2,405.7 L345.1,406.3 L347.0,408.7 L348.9,410.2 L351.8,410.2 L354.7,410.7 L356.6,412.6 L358.5,416.4 L360.5,421.2 L361.9,423.0 L362.2,423.2 L362.2,423.2 Z" fill="#de5656" stroke="#c84444" stroke-width="0.5" stroke-linejoin="round"/>
<rect x="367.0" y="422.6" width="5.0" height="0.6" fill="#de5656"/>
<rect x="112.0" y="422.2" width="16.0" height="1.0" fill="#de5656"/>
<rect x="146.0" y="422.4" width="14.0" height="0.8" fill="#de5656"/>
<rect x="160.0" y="422.0" width="15.0" height="1.2" fill="#de5656"/>
<rect x="200.0" y="422.4" width="10.0" height="0.8" fill="#de5656"/>
<rect x="290.0" y="422.4" width="10.0" height="0.8" fill="#de5656"/>
<rect x="318.0" y="422.2" width="8.0" height="1.0" fill="#de5656"/>
<rect x="370.0" y="422.4" width="10.0" height="0.8" fill="#de5656"/>
<rect x="405.0" y="422.4" width="10.0" height="0.8" fill="#de5656"/>
<rect x="430.0" y="422.4" width="10.0" height="0.8" fill="#de5656"/>
<rect x="450.0" y="422.4" width="5.0" height="0.8" fill="#de5656"/>
<path d="M324.4,445.0 L324.4,445.0 L325.3,442.7 L326.2,442.3 L327.1,441.4 L328.0,441.5 L328.9,440.7 L329.8,439.9 L330.7,440.4 L331.6,440.6 L332.5,440.4 L333.4,441.4 L334.3,441.2 L335.2,440.7 L336.1,440.1 L337.0,438.5 L337.9,435.6 L338.8,433.4 L339.7,431.5 L340.6,431.1 L341.5,430.0 L342.4,429.6 L343.3,429.1 L344.2,428.8 L345.1,427.2 L346.0,429.1 L346.9,430.2 L347.8,432.6 L348.7,433.9 L349.6,434.6 L350.5,432.9 L351.4,432.7 L352.3,433.5 L353.2,435.8 L354.1,436.4 L355.0,436.1 L355.9,438.0 L356.8,440.9 L357.7,443.7 L357.7,445.0 Z" fill="#de5656" stroke="#c84444" stroke-width="0.5" stroke-linejoin="round"/>
<path d="M359.6,445.0 L359.6,445.0 L360.0,442.4 L361.0,444.5 L362.9,440.5 L364.8,439.0 L366.7,438.1 L368.6,439.5 L370.1,441.4 L371.0,445.0 L371.0,445.0 Z" fill="#de5656" stroke="#c84444" stroke-width="0.5" stroke-linejoin="round"/>
<rect x="112.5" y="439.5" width="3.5" height="5.5" fill="#de5656"/>
<path d="M116.0,445.0 L116.0,445.0 L117.0,440.5 L118.0,441.6 L119.0,441.6 L120.0,440.4 L121.0,441.6 L122.0,441.0 L123.0,440.7 L124.0,441.4 L125.0,445.0 L125.0,445.0 Z" fill="#de5656" stroke="#c84444" stroke-width="0.4" stroke-linejoin="round"/>
<path d="M125.0,445.0 L125.0,445.0 L126.0,440.4 L127.0,440.5 L128.0,440.1 L129.0,440.4 L130.0,445.0 L130.0,445.0 Z" fill="#de5656" stroke="#c84444" stroke-width="0.4" stroke-linejoin="round"/>
<path d="M136.0,445.0 L136.0,445.0 L137.0,442.4 L138.0,442.6 L139.0,442.7 L140.0,441.9 L141.0,441.6 L142.0,445.0 L142.0,445.0 Z" fill="#de5656" stroke="#c84444" stroke-width="0.4" stroke-linejoin="round"/>
<path d="M142.0,445.0 L142.0,445.0 L143.0,441.1 L144.0,441.0 L145.0,440.5 L146.0,440.2 L147.0,440.2 L148.0,440.9 L149.0,441.1 L150.0,445.0 L150.0,445.0 Z" fill="#de5656" stroke="#c84444" stroke-width="0.4" stroke-linejoin="round"/>
<path d="M150.0,445.0 L150.0,445.0 L151.0,441.6 L152.0,440.8 L153.0,441.3 L154.0,441.0 L155.0,442.2 L156.0,441.6 L157.5,445.0 L157.5,445.0 Z" fill="#de5656" stroke="#c84444" stroke-width="0.4" stroke-linejoin="round"/>
<path d="M158.0,445.0 L158.0,445.0 L159.0,443.9 L160.0,442.8 L161.0,443.7 L162.0,443.2 L163.0,442.9 L164.0,443.2 L165.0,443.6 L166.0,443.8 L167.0,443.0 L168.0,443.2 L169.0,443.4 L170.0,443.9 L171.0,443.9 L172.0,442.8 L173.0,443.1 L174.0,443.0 L175.0,443.2 L176.0,442.9 L177.0,443.3 L178.0,443.8 L179.0,443.5 L180.0,442.8 L181.0,443.5 L182.0,443.6 L183.0,443.0 L184.0,443.7 L185.0,443.9 L186.0,442.9 L187.0,443.2 L188.0,443.7 L189.0,443.5 L190.0,443.9 L191.0,443.5 L192.0,443.6 L193.0,443.1 L194.0,443.6 L195.0,442.8 L196.0,442.8 L197.0,443.8 L198.0,443.2 L199.0,442.9 L200.0,445.0 L200.0,445.0 Z" fill="#de5656" stroke="#c84444" stroke-width="0.4" stroke-linejoin="round"/>
<path d="M200.0,445.0 L200.0,445.0 L201.0,442.8 L202.0,443.7 L203.0,443.0 L204.0,443.7 L205.0,443.6 L206.0,443.9 L207.0,443.7 L208.0,443.7 L209.0,443.9 L210.0,443.7 L211.0,443.1 L212.0,443.1 L213.0,442.9 L214.0,443.2 L215.0,442.9 L216.0,443.5 L217.0,445.0 L217.0,445.0 Z" fill="#de5656" stroke="#c84444" stroke-width="0.4" stroke-linejoin="round"/>
<path d="M225.0,445.0 L225.0,445.0 L226.0,439.4 L227.0,439.8 L228.0,440.5 L229.0,440.2 L230.0,439.3 L231.0,440.3 L232.0,445.0 L232.0,445.0 Z" fill="#de5656" stroke="#c84444" stroke-width="0.4" stroke-linejoin="round"/>
<path d="M243.8,445.0 L243.8,445.0 L244.8,443.0 L245.8,442.6 L246.8,442.0 L247.8,442.3 L248.8,441.8 L249.8,441.8 L250.8,442.8 L251.8,442.4 L252.8,442.4 L253.8,441.6 L255.0,445.0 L255.0,445.0 Z" fill="#de5656" stroke="#c84444" stroke-width="0.4" stroke-linejoin="round"/>
<path d="M258.8,445.0 L258.8,445.0 L259.8,441.4 L260.8,441.1 L261.8,441.5 L262.8,441.6 L263.8,442.5 L265.0,445.0 L265.0,445.0 Z" fill="#de5656" stroke="#c84444" stroke-width="0.4" stroke-linejoin="round"/>
<path d="M265.0,445.0 L265.0,445.0 L266.0,441.3 L267.0,441.5 L268.0,440.8 L269.0,441.2 L270.0,441.1 L271.0,440.9 L272.0,440.3 L273.0,440.5 L274.0,440.7 L275.0,445.0 L275.0,445.0 Z" fill="#de5656" stroke="#c84444" stroke-width="0.4" stroke-linejoin="round"/>
<path d="M275.0,445.0 L275.0,445.0 L276.0,442.5 L277.0,441.4 L278.0,441.2 L279.0,441.6 L280.0,441.7 L281.0,442.3 L282.5,445.0 L282.5,445.0 Z" fill="#de5656" stroke="#c84444" stroke-width="0.4" stroke-linejoin="round"/>
<path d="M301.0,445.0 L301.0,445.0 L302.0,441.7 L303.0,441.6 L304.0,441.4 L305.0,441.2 L306.0,441.2 L307.0,440.5 L308.0,441.4 L309.0,440.7 L310.0,441.4 L311.0,440.3 L312.0,440.5 L313.0,440.7 L314.0,441.0 L315.0,441.7 L316.0,445.0 L316.0,445.0 Z" fill="#de5656" stroke="#c84444" stroke-width="0.4" stroke-linejoin="round"/>
<path d="M310.0,445.0 L310.0,445.0 L311.0,443.4 L312.0,443.4 L313.0,443.1 L314.0,442.4 L315.0,443.0 L316.0,443.3 L317.0,445.0 L317.0,445.0 Z" fill="#de5656" stroke="#c84444" stroke-width="0.4" stroke-linejoin="round"/>
<path d="M376.0,445.0 L376.0,445.0 L377.0,442.7 L378.0,442.0 L379.0,442.9 L380.0,442.1 L381.0,442.8 L382.0,442.4 L383.0,442.1 L384.0,445.0 L384.0,445.0 Z" fill="#de5656" stroke="#c84444" stroke-width="0.4" stroke-linejoin="round"/>
<path d="M406.0,445.0 L406.0,445.0 L407.0,442.0 L408.0,440.9 L409.0,441.9 L410.0,442.0 L411.0,441.9 L412.0,441.5 L413.0,441.6 L414.0,441.3 L415.0,445.0 L415.0,445.0 Z" fill="#de5656" stroke="#c84444" stroke-width="0.4" stroke-linejoin="round"/>
<path d="M449.0,445.0 L449.0,445.0 L450.0,442.9 L451.0,442.6 L452.0,443.0 L453.0,442.2 L454.0,442.1 L455.0,442.3 L456.0,442.6 L457.0,441.7 L458.0,441.8 L459.0,441.9 L460.0,442.5 L461.0,441.7 L462.0,445.0 L462.0,445.0 Z" fill="#de5656" stroke="#c84444" stroke-width="0.4" stroke-linejoin="round"/>
<path d="M477.0,445.0 L477.0,445.0 L478.0,443.0 L479.0,443.4 L480.0,442.8 L481.0,443.3 L482.0,443.6 L483.0,443.8 L484.0,443.5 L485.0,445.0 L485.0,445.0 Z" fill="#de5656" stroke="#c84444" stroke-width="0.4" stroke-linejoin="round"/>
<path d="M334.2,466.8 L334.2,466.8 L334.6,464.6 L337.7,464.2 L341.5,464.6 L343.5,464.2 L344.2,456.5 L345.4,451.9 L346.9,450.0 L348.5,449.6 L350.0,450.4 L351.2,452.7 L351.9,457.3 L353.1,461.9 L354.2,462.7 L355.0,465.0 L355.8,466.8 L355.8,466.8 Z" fill="#de5656" stroke="#c84444" stroke-width="0.5" stroke-linejoin="round"/>
<path d="M453.8,466.8 L453.8,466.8 L455.0,465.0 L457.0,463.5 L459.0,463.8 L461.0,465.0 L463.0,466.8 L463.0,466.8 Z" fill="#de5656" stroke="#c84444" stroke-width="0.5" stroke-linejoin="round"/>
<path d="M481.7,466.8 L481.7,466.8 L483.0,465.3 L485.0,464.0 L487.0,465.0 L488.8,466.8 L488.8,466.8 Z" fill="#de5656" stroke="#c84444" stroke-width="0.5" stroke-linejoin="round"/>
<path d="M113.0,466.8 L113.0,466.8 L114.0,464.6 L115.0,465.1 L116.0,464.5 L117.0,464.7 L118.0,464.2 L119.0,464.6 L120.0,466.8 L120.0,466.8 Z" fill="#de5656" stroke="#c84444" stroke-width="0.4" stroke-linejoin="round"/>
<path d="M202.5,466.8 L202.5,466.8 L203.5,464.7 L204.5,464.9 L205.5,464.7 L206.5,464.3 L207.5,464.6 L208.5,464.7 L209.5,464.3 L210.5,464.4 L211.5,464.8 L213.0,466.8 L213.0,466.8 Z" fill="#de5656" stroke="#c84444" stroke-width="0.4" stroke-linejoin="round"/>
<path d="M213.0,466.8 L213.0,466.8 L214.0,462.5 L215.0,462.9 L216.0,463.3 L217.0,463.1 L218.0,466.8 L218.0,466.8 Z" fill="#de5656" stroke="#c84444" stroke-width="0.4" stroke-linejoin="round"/>
<rect x="218.0" y="465.0" width="3.0" height="1.8" fill="#de5656"/>
<path d="M227.5,466.8 L227.5,466.8 L228.5,465.6 L229.5,465.4 L230.5,465.4 L231.5,465.6 L232.5,465.4 L233.5,465.2 L234.5,465.4 L236.0,466.8 L236.0,466.8 Z" fill="#de5656" stroke="#c84444" stroke-width="0.4" stroke-linejoin="round"/>
<path d="M264.0,466.8 L264.0,466.8 L265.0,465.5 L266.0,465.8 L267.0,465.0 L268.0,465.3 L269.0,465.5 L270.0,464.9 L271.0,465.3 L272.0,465.1 L273.0,465.5 L274.0,465.8 L275.0,465.8 L276.0,466.8 L276.0,466.8 Z" fill="#de5656" stroke="#c84444" stroke-width="0.4" stroke-linejoin="round"/>
<path d="M302.5,466.8 L302.5,466.8 L303.5,465.3 L304.5,465.1 L305.5,465.4 L306.5,465.2 L307.5,465.3 L308.5,465.9 L309.5,465.8 L310.5,465.8 L311.5,465.9 L312.5,465.7 L313.5,465.4 L314.5,465.1 L315.5,465.5 L316.5,465.4 L317.5,465.7 L318.5,465.9 L320.0,466.8 L320.0,466.8 Z" fill="#de5656" stroke="#c84444" stroke-width="0.4" stroke-linejoin="round"/>
<path d="M311.0,466.8 L311.0,466.8 L312.0,464.7 L313.0,465.3 L314.0,465.6 L315.0,465.3 L316.0,465.4 L317.0,465.4 L318.0,464.8 L319.0,464.5 L320.0,464.5 L321.0,464.8 L322.0,465.0 L323.0,464.9 L324.0,465.2 L325.0,465.3 L326.0,464.4 L327.0,464.6 L328.0,464.4 L329.0,465.2 L330.0,466.8 L330.0,466.8 Z" fill="#de5656" stroke="#c84444" stroke-width="0.4" stroke-linejoin="round"/>
<path d="M333.8,466.8 L333.8,466.8 L334.8,465.1 L335.8,465.2 L336.8,464.4 L337.8,464.8 L338.8,464.9 L339.8,464.9 L340.8,464.7 L341.8,465.5 L343.0,466.8 L343.0,466.8 Z" fill="#de5656" stroke="#c84444" stroke-width="0.4" stroke-linejoin="round"/>
<path d="M355.0,466.8 L355.0,466.8 L356.0,465.4 L357.0,465.5 L358.0,465.2 L359.0,465.2 L360.0,465.4 L361.0,465.5 L362.0,465.1 L363.0,465.1 L364.0,465.7 L365.0,465.8 L366.0,465.1 L367.0,465.8 L368.0,465.6 L369.0,465.1 L370.0,465.6 L371.0,465.7 L372.0,465.9 L373.0,465.2 L374.0,465.6 L375.0,465.8 L376.0,466.8 L376.0,466.8 Z" fill="#de5656" stroke="#c84444" stroke-width="0.4" stroke-linejoin="round"/>
<rect x="380.0" y="466.0" width="12.5" height="0.8" fill="#de5656"/>
<rect x="403.8" y="466.2" width="6.2" height="0.6" fill="#de5656"/>
<path d="M77.5,488.6 L77.5,488.6 L78.0,486.5 L80.0,487.5 L81.0,488.6 L81.0,488.6 Z" fill="#de5656" stroke="#c84444" stroke-width="0.5" stroke-linejoin="round"/>
<path d="M102.5,488.6 L102.5,488.6 L103.7,487.5 L104.9,486.7 L106.1,486.6 L107.3,486.2 L108.5,485.6 L109.7,485.2 L110.9,485.3 L112.1,484.7 L113.3,484.6 L114.5,484.7 L115.7,484.7 L116.9,484.3 L118.1,484.5 L119.3,484.8 L120.5,485.4 L121.7,485.0 L122.9,485.3 L124.1,485.1 L125.3,485.0 L126.5,485.1 L127.7,484.8 L128.9,485.3 L130.1,485.8 L131.3,486.1 L132.5,486.1 L133.7,486.7 L134.9,486.8 L136.1,487.1 L137.3,486.8 L138.5,487.0 L139.7,487.2 L140.9,487.4 L142.1,487.4 L143.3,487.4 L144.5,487.4 L145.7,487.5 L146.9,487.5 L148.1,487.8 L149.3,487.8 L150.5,487.9 L151.7,487.8 L152.9,487.9 L154.1,487.9 L155.3,488.2 L155.3,488.6 Z" fill="#de5656" stroke="#c84444" stroke-width="0.5" stroke-linejoin="round"/>
<path d="M158.7,488.6 L158.7,488.6 L159.9,487.7 L161.1,487.2 L162.3,486.5 L163.5,485.6 L164.7,485.0 L165.9,484.9 L167.1,484.7 L168.3,483.9 L169.5,483.7 L170.7,484.1 L171.9,483.7 L173.1,484.2 L174.3,484.1 L175.5,484.4 L176.7,484.7 L177.9,484.7 L179.1,484.9 L180.3,485.2 L181.5,485.8 L182.7,486.2 L183.9,486.4 L185.1,486.8 L186.3,487.0 L187.5,487.1 L188.7,487.3 L189.9,487.6 L191.1,487.7 L192.3,488.0 L193.5,488.1 L194.7,488.1 L195.9,488.0 L197.1,488.1 L198.3,488.2 L199.5,488.2 L200.7,488.3 L201.9,488.1 L203.1,488.2 L204.3,488.1 L205.5,488.2 L206.7,488.2 L207.9,488.1 L209.1,488.1 L210.3,488.1 L211.5,488.1 L212.7,488.0 L213.9,488.0 L215.1,487.9 L216.3,487.9 L217.5,487.8 L218.7,487.7 L219.9,487.8 L221.1,487.6 L222.3,487.5 L223.5,487.4 L224.7,487.7 L225.9,487.4 L227.1,487.3 L228.3,487.4 L229.5,487.4 L230.7,487.3 L231.9,487.2 L233.1,487.2 L234.3,487.2 L235.5,486.9 L236.7,487.2 L237.9,487.0 L239.1,487.1 L240.3,487.1 L241.5,487.1 L242.7,486.9 L243.9,486.9 L245.1,487.1 L246.3,487.1 L247.5,486.8 L248.7,487.3 L249.9,487.0 L251.1,487.2 L252.3,487.2 L253.5,487.1 L254.7,487.3 L255.9,487.3 L257.1,487.4 L258.3,487.4 L259.5,487.2 L260.7,487.3 L261.9,487.5 L263.1,487.3 L264.3,487.4 L265.5,486.9 L266.7,487.2 L267.9,486.9 L269.1,486.8 L270.3,486.9 L271.5,486.7 L272.7,486.6 L273.9,486.7 L275.1,486.6 L276.3,486.5 L277.5,486.8 L278.7,486.2 L279.9,486.2 L281.1,486.0 L282.3,486.2 L283.5,485.9 L284.7,486.0 L285.9,485.9 L287.1,486.0 L288.3,486.3 L289.5,486.1 L290.7,486.7 L291.9,486.6 L293.1,486.6 L294.3,486.8 L295.5,487.1 L296.7,486.9 L297.9,486.8 L299.1,486.8 L300.3,486.9 L301.5,487.2 L302.7,487.1 L303.9,487.0 L305.1,487.3 L306.3,487.0 L307.5,487.1 L308.7,487.4 L309.9,487.5 L311.1,487.3 L312.3,487.2 L313.5,487.5 L314.7,487.5 L315.9,487.4 L317.1,487.6 L318.3,487.8 L319.5,487.6 L320.7,487.7 L321.9,487.8 L323.1,488.0 L324.3,487.9 L325.5,488.0 L326.7,488.0 L327.9,487.8 L329.1,487.9 L330.3,487.7 L331.5,487.9 L332.7,487.8 L333.9,487.7 L335.1,487.8 L336.3,487.0 L337.5,485.3 L338.7,484.0 L339.9,482.0 L341.1,480.3 L342.3,478.8 L343.5,477.2 L344.7,476.0 L345.9,474.3 L347.1,473.3 L348.3,472.1 L349.5,471.4 L350.7,472.1 L351.9,473.0 L353.1,475.1 L354.3,476.7 L355.5,479.2 L356.7,480.7 L357.9,483.5 L359.1,485.1 L360.3,486.5 L361.5,487.5 L362.7,488.1 L363.9,488.1 L365.1,488.1 L366.3,488.1 L367.5,488.0 L368.7,488.1 L369.9,488.0 L371.1,488.2 L372.3,488.1 L373.5,488.2 L374.7,488.1 L375.9,488.6 L375.9,488.6 Z" fill="#de5656" stroke="#c84444" stroke-width="0.5" stroke-linejoin="round"/>
<rect x="405.0" y="487.6" width="10.0" height="1.0" fill="#de5656"/>
<rect x="420.0" y="488.0" width="10.0" height="0.6" fill="#de5656"/>
<rect x="440.0" y="488.0" width="15.0" height="0.6" fill="#de5656"/>
<rect x="470.0" y="487.8" width="15.0" height="0.8" fill="#de5656"/>
<path d="M77.5,510.5 L77.5,510.5 L78.0,508.5 L80.0,509.5 L81.0,510.5 L81.0,510.5 Z" fill="#de5656" stroke="#c84444" stroke-width="0.5" stroke-linejoin="round"/>
<path d="M103.7,510.5 L103.7,510.5 L104.9,510.0 L106.1,509.4 L107.3,509.3 L108.5,509.2 L109.7,508.5 L110.9,508.6 L112.1,508.0 L113.3,507.6 L114.5,507.6 L115.7,507.7 L116.9,507.1 L118.1,507.3 L119.3,506.9 L120.5,506.6 L121.7,506.6 L122.9,506.5 L124.1,506.9 L125.3,507.5 L126.5,507.9 L127.7,507.7 L128.9,508.5 L130.1,508.6 L131.3,508.9 L132.5,508.9 L133.7,508.9 L134.9,508.9 L136.1,509.3 L137.3,509.5 L138.5,509.4 L139.7,509.3 L140.9,509.5 L142.1,509.4 L143.3,509.3 L144.5,509.3 L145.7,509.2 L146.9,508.9 L148.1,508.6 L149.3,508.6 L150.5,508.5 L151.7,508.5 L152.9,508.3 L154.1,508.3 L155.3,508.0 L156.5,507.9 L157.7,508.1 L158.9,507.8 L160.1,507.8 L161.3,507.8 L162.5,507.5 L163.7,507.8 L164.9,507.8 L166.1,507.9 L167.3,508.0 L168.5,508.1 L169.7,508.5 L170.9,508.8 L172.1,508.9 L173.3,509.1 L174.5,509.0 L175.7,508.8 L176.9,509.0 L178.1,509.1 L179.3,509.6 L180.5,509.4 L181.7,509.5 L182.9,509.3 L184.1,509.3 L185.3,509.4 L186.5,509.2 L187.7,508.9 L188.9,509.1 L190.1,508.9 L191.3,509.2 L192.5,508.7 L193.7,508.7 L194.9,509.0 L196.1,508.6 L197.3,508.4 L198.5,508.8 L199.7,508.8 L200.9,508.5 L202.1,508.3 L203.3,508.9 L204.5,508.5 L205.7,508.5 L206.9,508.4 L208.1,509.0 L209.3,508.7 L210.5,508.6 L211.7,508.8 L212.9,509.0 L214.1,509.2 L215.3,508.8 L216.5,509.0 L217.7,508.7 L218.9,509.0 L220.1,508.6 L221.3,508.7 L222.5,508.7 L223.7,508.4 L224.9,508.3 L226.1,508.0 L227.3,508.1 L228.5,508.5 L229.7,508.5 L230.9,508.4 L232.1,508.1 L233.3,508.6 L234.5,508.7 L235.7,508.7 L236.9,508.6 L238.1,508.6 L239.3,508.4 L240.5,508.4 L241.7,508.4 L242.9,508.8 L244.1,508.7 L245.3,509.1 L246.5,508.9 L247.7,509.0 L248.9,509.0 L250.1,509.2 L251.3,509.4 L252.5,509.4 L253.7,509.5 L254.9,509.1 L256.1,509.4 L257.3,509.3 L258.5,509.2 L259.7,509.5 L260.9,509.4 L262.1,509.2 L263.3,509.4 L264.5,509.3 L265.7,509.3 L266.9,509.2 L268.1,509.2 L269.3,508.9 L270.5,509.3 L271.7,509.0 L272.9,509.0 L274.1,508.8 L275.3,509.0 L276.5,508.7 L277.7,508.6 L278.9,508.7 L280.1,509.0 L281.3,508.9 L282.5,509.0 L283.7,508.7 L284.9,508.9 L286.1,509.1 L287.3,509.1 L288.5,509.0 L289.7,508.8 L290.9,509.0 L292.1,509.3 L293.3,509.3 L294.5,509.2 L295.7,509.1 L296.9,509.3 L298.1,509.3 L299.3,509.3 L300.5,509.4 L301.7,509.3 L302.9,509.1 L304.1,509.4 L305.3,509.4 L306.5,509.1 L307.7,509.3 L308.9,509.5 L310.1,509.3 L311.3,509.3 L312.5,509.2 L313.7,509.2 L314.9,509.4 L316.1,509.1 L317.3,509.2 L318.5,509.0 L319.7,509.2 L320.9,509.3 L322.1,509.3 L323.3,509.5 L324.5,509.2 L325.7,509.2 L326.9,509.3 L328.1,509.3 L329.3,509.6 L330.5,509.4 L331.7,509.5 L332.9,509.7 L334.1,509.5 L335.3,509.6 L336.5,509.0 L337.7,507.3 L338.9,505.6 L340.1,504.1 L341.3,501.6 L342.5,499.7 L343.7,498.4 L344.9,496.6 L346.1,495.0 L347.3,494.2 L348.5,493.3 L349.7,494.3 L350.9,495.7 L352.1,497.6 L353.3,499.6 L354.5,501.4 L355.7,504.0 L356.9,506.0 L358.1,508.4 L359.3,509.0 L360.5,509.6 L361.7,509.7 L362.9,509.7 L364.1,509.9 L365.3,509.8 L366.5,509.7 L367.7,509.7 L368.9,509.7 L370.1,509.8 L371.3,509.9 L372.5,509.9 L373.7,509.7 L374.9,509.8 L376.1,509.7 L377.3,509.8 L378.5,509.6 L379.7,509.6 L380.9,509.6 L382.1,509.8 L383.3,509.5 L384.5,509.5 L385.7,509.6 L386.9,509.5 L388.1,509.5 L389.3,509.7 L390.5,509.5 L391.7,509.7 L392.9,509.7 L394.1,509.5 L395.3,509.5 L396.5,509.4 L397.7,509.5 L398.9,509.5 L400.1,509.5 L401.3,509.5 L402.5,509.5 L403.7,509.6 L404.9,509.5 L406.1,509.5 L407.3,509.5 L408.5,509.6 L409.7,509.5 L410.9,509.6 L412.1,509.6 L413.3,509.4 L414.5,509.6 L415.7,509.4 L416.9,509.5 L418.1,509.5 L419.3,509.5 L420.5,509.4 L421.7,509.6 L422.9,509.4 L424.1,509.3 L425.3,509.2 L426.5,509.5 L427.7,509.4 L428.9,509.1 L430.1,509.2 L431.3,509.1 L432.5,509.1 L433.7,509.4 L434.9,509.4 L436.1,509.5 L437.3,509.5 L438.5,509.4 L439.7,509.6 L440.9,509.4 L442.1,509.6 L443.3,509.6 L444.5,509.5 L445.7,509.5 L446.9,509.6 L448.1,509.5 L449.3,509.4 L450.5,509.6 L451.7,509.7 L452.9,509.6 L454.1,509.7 L455.3,509.5 L456.5,509.4 L457.7,509.4 L458.9,509.5 L460.1,509.6 L461.3,509.6 L462.5,509.7 L463.7,509.6 L464.9,509.7 L466.1,509.6 L467.3,509.5 L468.5,509.7 L469.7,509.6 L470.9,509.8 L472.1,509.8 L473.3,509.7 L474.5,509.7 L475.7,509.9 L476.9,510.0 L478.1,510.2 L479.3,510.4 L479.3,510.5 Z" fill="#de5656" stroke="#c84444" stroke-width="0.5" stroke-linejoin="round"/>
<path d="M336.0,532.3 L336.0,532.3 L336.5,531.9 L341.0,531.1 L344.0,530.0 L345.1,522.5 L346.2,517.2 L347.4,515.0 L348.9,515.4 L350.0,517.2 L351.1,522.5 L352.6,528.5 L353.4,531.5 L353.6,532.3 L353.6,532.3 Z" fill="#de5656" stroke="#c84444" stroke-width="0.5" stroke-linejoin="round"/>
<path d="M393.8,532.3 L393.8,532.3 L395.0,530.0 L397.0,529.5 L398.8,527.8 L400.5,529.5 L401.2,530.2 L404.5,530.5 L405.0,532.3 L405.0,532.3 Z" fill="#de5656" stroke="#c84444" stroke-width="0.5" stroke-linejoin="round"/>
<rect x="112.5" y="530.0" width="3.5" height="2.3" fill="#de5656"/>
<rect x="141.0" y="531.5" width="5.0" height="0.8" fill="#de5656"/>
<path d="M160.0,532.3 L160.0,532.3 L161.0,530.8 L162.0,530.4 L163.0,530.5 L164.0,530.7 L165.0,530.7 L166.0,532.3 L166.0,532.3 Z" fill="#de5656" stroke="#c84444" stroke-width="0.4" stroke-linejoin="round"/>
<polyline points="15.5,573.8 345.4,552 496,569.2" fill="none" stroke="#5a5a5a" stroke-width="0.9" stroke-dasharray="1.1,1.2"/>
<text x="170.6" y="589.4" font-size="13.9" fill="#111" font-weight="normal" text-anchor="start" stroke="#111" stroke-width="0.2">E-box</text>
<text x="250.0" y="589.0" font-size="14.0" fill="#111" font-weight="normal" text-anchor="start" stroke="#111" stroke-width="0.2">ZF-DBD target site</text>
<rect x="187.7" y="597.6" width="2.3" height="6.8" fill="#111"/>
<rect x="307.4" y="598.3" width="2.3" height="6.8" fill="#111"/>
<rect x="138.6" y="641.9" width="2.3" height="7.6" fill="#111"/>
<text x="137.8" y="664.3" font-size="13.95" fill="#111" font-weight="normal" text-anchor="start" stroke="#111" stroke-width="0.2">rs11036496</text>
<text x="10.3" y="619.3" font-size="9.6" fill="#222" stroke="#222" stroke-width="0.3" letter-spacing="2.15">ATGGGAGCTGGGCAAGT<tspan fill="#c67a36" stroke="#c67a36">CACGTG</tspan>A<tspan font-weight="bold" stroke-width="0.15">CTGCTTGCTTT</tspan><tspan fill="#c44444" stroke="#c44444">CCCCCAC</tspan>TTTCCTGATGACCT</text>
<rect x="226.2" y="619.5" width="94" height="1.15" fill="#222"/>
<rect x="320.2" y="619.5" width="63.5" height="1.15" fill="#c44444"/>
<text x="10.3" y="630.1" font-size="9.6" fill="#222" stroke="#222" stroke-width="0.3" letter-spacing="2.15">GCATGACACAGCA<tspan fill="#5e9e3c" stroke="#5e9e3c">[C/G]</tspan>AGGCAGCCATAAT</text>
</svg>
</body></html>
